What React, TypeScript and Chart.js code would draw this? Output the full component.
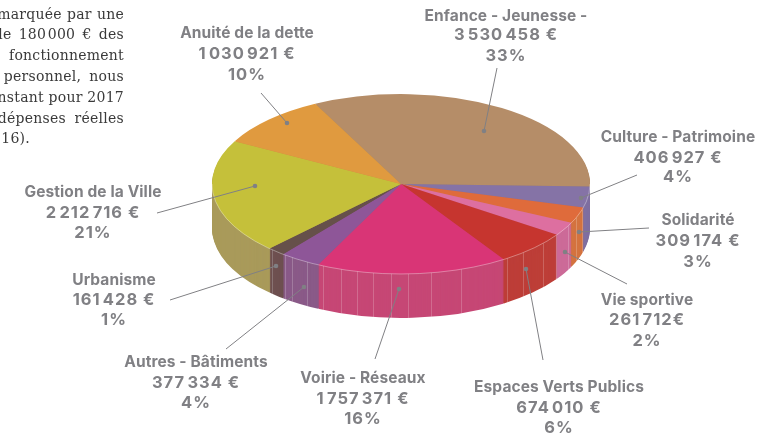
import React, { useEffect, useRef } from "react";
import { Chart, registerables } from "chart.js";

Chart.register(...registerables);

const categories = ["Enfance - Jeunesse -", "Culture - Patrimoine", "Solidarité", "Vie sportive", "Espaces Verts Publics", "Voirie - Réseaux", "Autres - Bâtiments", "Urbanisme", "Gestion de la Ville", "Anuité de la dette"];
const amounts = [3530458, 406927, 309174, 261712, 674010, 1757371, 377334, 161428, 2212716, 1030921];
const amountLabels = ["3\u200A530\u200A458 €", "406\u200A927 €", "309\u200A174 €", "261\u200A712€", "674\u200A010 €", "1\u200A757\u200A371 €", "377\u200A334 €", "161\u200A428 €", "2\u200A212\u200A716 €", "1\u200A030\u200A921 €"];
const percents = ["33%", "4%", "3%", "2%", "6%", "16%", "4%", "1%", "21%", "10%"];
const topColors = ["#B58D68", "#8573A6", "#DF6B3B", "#DD6FA0", "#C6352F", "#D93576", "#8E5698", "#66504A", "#C5C03A", "#E09A3F"];
const sideColors = ["#A88560", "#7F6FA0", "#D4733F", "#CC6A98", "#BD3E38", "#C64775", "#8A5A88", "#6E5050", "#A99A5A", "#C98F45"];

// label placement: centre x, three line centres, leader line (outer end, dot)
const labelX = [506, 678, 698, 647, 559, 363, 196, 114, 93, 247];
const labelY = [[16, 35, 56], [137, 158, 177], [220, 241, 262], [300, 320, 341], [387, 408, 428], [378, 399, 419], [362, 383, 403], [280, 300, 320], [192, 213, 233], [33, 54, 75]];
const leaders = [[497, 68, 484, 131], [637, 175, 581, 198], [649, 228, 579, 232], [627, 284, 565, 252], [543, 360, 526, 269], [375, 359, 399, 289], [226, 349, 304, 287], [170, 300, 276, 266], [157, 213, 255, 186], [261, 93, 287, 123]];

const paragraph = ["remarquée par une", "de 180\u200A000 € des", "fonctionnement", "personnel, nous", "constant pour 2017", "dépenses réelles", "2016)."];
const paragraphSpacing = [0.5, 2.5, 0, 3.5, 0, 4, 0];
const paragraphRight = [124, 124, 124, 124, 124, 124, 30];
const stripeX = [272, 285, 292, 307, 323, 341, 357, 373, 391, 408, 431, 461, 507, 523, 543, 556, 568, 576, 582];

const CENTER_Y = 184;
const SQUASH = 0.476;
const DEPTH = 44;

const pie3d = {
  id: "pie3d",
  beforeDatasetsDraw(chart: any) {
    const { ctx } = chart;
    const arcs = chart.getDatasetMeta(0).data;
    const cy = arcs[0].y;
    for (let d = DEPTH; d >= 1; d--) {
      ctx.save();
      ctx.translate(0, CENTER_Y + d);
      ctx.scale(1, SQUASH);
      ctx.translate(0, -cy);
      arcs.forEach((arc: any, i: number) => {
        const saved = arc.options;
        arc.options = { ...saved, backgroundColor: sideColors[i] };
        arc.draw(ctx);
        arc.options = saved;
      });
      ctx.restore();
    }
    ctx.save();
    ctx.translate(0, CENTER_Y);
    ctx.scale(1, SQUASH);
    ctx.translate(0, -cy);
  },
  afterDatasetsDraw(chart: any) {
    const { ctx } = chart;
    ctx.restore();
    const arc = chart.getDatasetMeta(0).data[0];
    const ry = arc.outerRadius * SQUASH;
    // pale vertical facets on the wall
    ctx.save();
    ctx.strokeStyle = "rgba(255,255,255,0.2)";
    ctx.lineWidth = 1;
    stripeX.forEach((x) => {
      const t = (x - arc.x) / arc.outerRadius;
      const y = CENTER_Y + ry * Math.sqrt(Math.max(0, 1 - t * t));
      ctx.beginPath();
      ctx.moveTo(x + 0.5, y);
      ctx.lineTo(x + 0.5, y + DEPTH);
      ctx.stroke();
    });
    // light rim along the front edge
    ctx.strokeStyle = "rgba(255,255,255,0.35)";
    ctx.beginPath();
    ctx.ellipse(arc.x, CENTER_Y, arc.outerRadius, ry, 0, 0, Math.PI);
    ctx.stroke();
    ctx.restore();
  },
  afterDraw(chart: any) {
    const { ctx } = chart;
    ctx.save();
    ctx.strokeStyle = "#808084";
    ctx.fillStyle = "#808084";
    ctx.lineWidth = 1;
    leaders.forEach(([x1, y1, x2, y2]) => {
      ctx.beginPath();
      ctx.moveTo(x1, y1);
      ctx.lineTo(x2, y2);
      ctx.stroke();
      ctx.beginPath();
      ctx.arc(x2, y2, 2.3, 0, Math.PI * 2);
      ctx.fill();
    });
    ctx.textAlign = "center";
    ctx.textBaseline = "middle";
    categories.forEach((name, i) => {
      ctx.font = "700 15.5px Inter";
      ctx.letterSpacing = "0.1px";
      ctx.fillText(name, labelX[i], labelY[i][0]);
      ctx.font = "700 16.5px Inter";
      ctx.letterSpacing = "1px";
      ctx.fillText(amountLabels[i], labelX[i], labelY[i][1]);
      ctx.fillText(percents[i], labelX[i], labelY[i][2]);
    });
    ctx.fillStyle = "#3a3a3a";
    ctx.font = "14px 'DejaVu Serif'";
    ctx.letterSpacing = "0.25px";
    ctx.textAlign = "right";
    paragraph.forEach((line, i) => {
      ctx.wordSpacing = `${paragraphSpacing[i]}px`;
      ctx.fillText(line, paragraphRight[i], 15 + i * 20.8);
    });
    ctx.restore();
  },
};

export default function App() {
  const ref = useRef<HTMLCanvasElement>(null);
  useEffect(() => {
    const chart = new Chart(ref.current!, {
      type: "pie",
      data: {
        labels: categories,
        datasets: [{ data: amounts, backgroundColor: topColors, borderWidth: 0 }],
      },
      options: {
        animation: false,
        responsive: false,
        rotation: -27,
        layout: { padding: { left: 212, right: 188, top: 0, bottom: 59 } },
        plugins: { legend: { display: false }, tooltip: { enabled: false } },
      },
      plugins: [pie3d],
    } as any);
    return () => chart.destroy();
  }, []);
  return (
    <div style={{ position: "fixed", left: 0, top: 0, width: 778, height: 437, background: "#fff" }}>
      <canvas ref={ref} width={778} height={437} style={{ display: "block" }} />
    </div>
  );
}
